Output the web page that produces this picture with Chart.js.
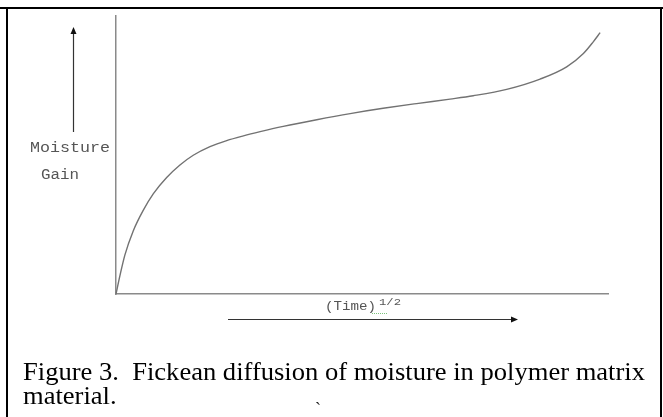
<!DOCTYPE html>
<html>
<head>
<meta charset="utf-8">
<script src="https://cdn.jsdelivr.net/npm/chart.js@4/dist/chart.umd.min.js"></script>
<style>
    html, body { margin: 0; padding: 0; background: #fff; }
    #wrap { position: relative; width: 663px; height: 417px; overflow: hidden; }
    #chart { position: absolute; left: 0; top: 0; }
    .caption {
        position: absolute;
        left: 23px;
        font-family: 'Liberation Serif', 'Times New Roman', Times, serif;
        font-size: 25px;
        line-height: 25px;
        color: #000;
        white-space: pre;
        transform-origin: 0 0;
    }
    .stray {
        position: absolute;
        left: 315px;
        top: 400px;
        font-family: 'Liberation Serif', serif;
        font-size: 18px;
        line-height: 18px;
        color: #222;
    }
</style>
</head>
<body>
<div id="wrap">
    <canvas id="chart" width="663" height="417"></canvas>
    <div class="caption" id="cap1" style="top:359px">Figure 3.  Fickean diffusion of moisture in polymer matrix</div>
    <div class="caption" id="cap2" style="top:383px">material.</div>
    <div class="stray">`</div>
</div>
<script>
// (Time)^1/2 on x, moisture gain on y, arbitrary units 0..100
const timeRoot = [0, 0.8, 1.8, 3.5, 5.5, 7.6, 10.3, 13.0, 15.7, 19.1, 22.5, 25.9, 29.3,
    34.0, 40.8, 47.6, 54.3, 61.1, 67.9, 72.6, 79.4, 86.2, 91.6, 95.0, 97.0, 98.4];
const moistureGain = [0, 6.6, 14.0, 22.7, 30.0, 36.1, 41.9, 46.4, 49.9, 53.0, 55.2, 56.9, 58.4,
    60.3, 62.7, 64.9, 66.8, 68.5, 70.1, 71.3, 73.6, 77.3, 81.7, 86.5, 90.7, 94.0];

const AXIS_COLOR = '#8a8a8a';
const CURVE_COLOR = '#727272';
const LABEL_COLOR = '#555';

// arrow helper
function arrow(ctx, x1, y1, x2, y2) {
    const ang = Math.atan2(y2 - y1, x2 - x1);
    ctx.beginPath();
    ctx.moveTo(x1, y1);
    ctx.lineTo(x2 - 5 * Math.cos(ang), y2 - 5 * Math.sin(ang));
    ctx.stroke();
    ctx.beginPath();
    ctx.moveTo(x2, y2);
    ctx.lineTo(x2 - 7 * Math.cos(ang) + 3 * Math.sin(ang), y2 - 7 * Math.sin(ang) - 3 * Math.cos(ang));
    ctx.lineTo(x2 - 7 * Math.cos(ang) - 3 * Math.sin(ang), y2 - 7 * Math.sin(ang) + 3 * Math.cos(ang));
    ctx.closePath();
    ctx.fill();
}

// stretched monospace text, like the scanned figure
function monoText(ctx, text, x, y, size, width) {
    ctx.save();
    ctx.font = size + "px 'Liberation Mono', 'Courier New', monospace";
    const w = ctx.measureText(text).width;
    ctx.translate(x, y);
    ctx.scale(width / w, 1);
    ctx.fillText(text, 0, 0);
    ctx.restore();
}

const decorPlugin = {
    id: 'decor',
    afterDraw(chart) {
        const ctx = chart.ctx;
        ctx.save();

        // page frame
        ctx.fillStyle = '#000';
        ctx.fillRect(0, 7, 663, 2);
        ctx.fillRect(6, 7, 2, 410);
        ctx.fillRect(660, 7, 2, 410);

        // direction arrows
        ctx.strokeStyle = '#333';
        ctx.fillStyle = '#111';
        ctx.lineWidth = 1.2;
        arrow(ctx, 73.5, 132, 73.5, 27);
        arrow(ctx, 228, 319.5, 518, 319.5);

        // axis labels
        ctx.fillStyle = LABEL_COLOR;
        ctx.textBaseline = 'alphabetic';
        monoText(ctx, 'Moisture', 30, 152, 14, 80);
        monoText(ctx, 'Gain', 41, 179, 14, 38);
        monoText(ctx, '(Time)', 325, 310, 12, 51);
        monoText(ctx, '1/2', 379, 305, 9, 22);

        // spell-check squiggle
        ctx.strokeStyle = '#7cc47c';
        ctx.lineWidth = 1;
        ctx.setLineDash([1, 1]);
        ctx.beginPath();
        ctx.moveTo(372, 313.5);
        ctx.lineTo(388, 313.5);
        ctx.stroke();

        ctx.restore();
    }
};

new Chart(document.getElementById('chart').getContext('2d'), {
    type: 'line',
    data: {
        datasets: [{
            data: timeRoot.map((t, i) => ({ x: t, y: moistureGain[i] })),
            borderColor: CURVE_COLOR,
            borderWidth: 1.4,
            pointRadius: 0,
            cubicInterpolationMode: 'monotone',
            clip: false
        }]
    },
    options: {
        responsive: false,
        animation: false,
        layout: { padding: { left: 116, top: 16, right: 55, bottom: 123 } },
        plugins: { legend: { display: false }, tooltip: { enabled: false } },
        scales: {
            x: {
                type: 'linear', min: 0, max: 100,
                ticks: { display: false },
                grid: { display: false, drawTicks: false },
                border: { display: true, color: AXIS_COLOR, width: 1.5 }
            },
            y: {
                type: 'linear', min: 0, max: 100,
                ticks: { display: false },
                grid: { display: false, drawTicks: false },
                border: { display: true, color: AXIS_COLOR, width: 1.5 }
            }
        }
    },
    plugins: [decorPlugin]
});

// fit caption line 1 to the width of the original
const cap1 = document.getElementById('cap1');
const cap2 = document.getElementById('cap2');
const sx = 622 / cap1.getBoundingClientRect().width;
cap1.style.transform = 'scaleX(' + sx + ')';
cap2.style.transform = 'scaleX(' + sx + ')';
</script>
</body>
</html>
